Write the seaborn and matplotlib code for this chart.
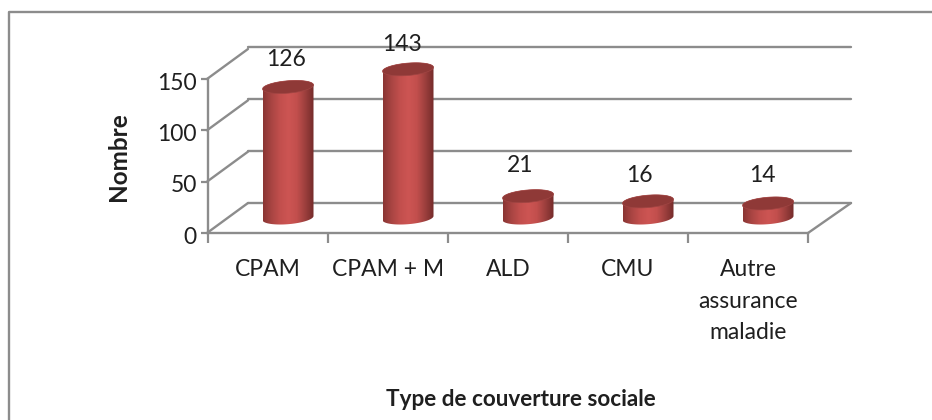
# Bar chart of social coverage types, drawn with a fake 3D cylinder look
import numpy as np
import pandas as pd
import matplotlib
matplotlib.use("Agg")
import matplotlib.pyplot as plt
from matplotlib.colors import LinearSegmentedColormap
from matplotlib.lines import Line2D
from matplotlib.patches import Polygon
from matplotlib.transforms import ScaledTranslation
import seaborn as sns

categories = ["CPAM", "CPAM + M", "ALD", "CMU", "Autre\nassurance\nmaladie"]
values = [126, 143, 21, 16, 14]
y_ticks = [0, 50, 100, 150]
x_title = "Type de couverture sociale"
y_title = "Nombre"

W, H = 932, 420
GRID = "#8c8c8c"
TEXT = "#1f1f1f"

sns.set_theme(style="white")
plt.rcParams["font.family"] = ["Lato", "DejaVu Sans"]


def axes_px(fig, left, right, bottom, top):
    # axes placed from pixel positions, y counted from the top of the image
    return fig.add_axes([left / W, 1 - bottom / H, (right - left) / W, (bottom - top) / H])


def line_px(fig, xs, ys, lw=1.7):
    fig.add_artist(Line2D([x / W for x in xs], [1 - y / H for y in ys], color=GRID, lw=lw))


fig = plt.figure(figsize=(W / 100, H / 100), dpi=100, facecolor="white")

# outer frame, only top and left are inside the crop
line_px(fig, [9, 9, W], [H, 12, 12], lw=1.7)

# back wall with the gridlines
ax_back = axes_px(fig, 248, 851, 203, 47)
ax_back.set_xlim(0, 1)
ax_back.set_ylim(0, 150)
ax_back.set_yticks(y_ticks)
ax_back.set_xticks([])
ax_back.tick_params(left=False, labelleft=False)
ax_back.grid(axis="y", color=GRID, lw=1.7)
for gridline in ax_back.get_ygridlines():
    gridline.set_clip_on(False)
sns.despine(ax=ax_back, left=True, bottom=True)

# side wall and floor edges
for tick in y_ticks:
    y = 233 - tick * 154 / 150
    line_px(fig, [207, 248], [y, y - 30])
line_px(fig, [808, 851], [233, 203])

# front axis: ticks and labels
ax = axes_px(fig, 208, 808, 233, 79)
ax.patch.set_alpha(0)
ax.set_xlim(-0.5, 4.5)
ax.set_ylim(0, 150)
ax.set_yticks(y_ticks)
ax.set_xticks(np.arange(-0.5, 5))
ax.set_xticklabels([])
ax.set_xticks(range(5), categories, minor=True)
ax.tick_params(axis="x", which="major", bottom=True, length=7, width=1.6, color=GRID)
ax.tick_params(axis="x", which="minor", bottom=False, labelsize=16.5, labelcolor=TEXT, pad=15)
ax.tick_params(axis="y", left=True, length=5, width=1.6, color=GRID, labelsize=16.5,
               labelcolor=TEXT, pad=3)
for label in ax.get_xticklabels(minor=True):
    label.set_linespacing(1.62)
# y labels sit slightly under their ticks in the original
for label in ax.get_yticklabels():
    label.set_transform(label.get_transform() + ScaledTranslation(0, -2 / 100, fig.dpi_scale_trans))
ax.spines["top"].set_visible(False)
ax.spines["right"].set_visible(False)
ax.spines["left"].set_color(GRID)
ax.spines["bottom"].set_color(GRID)
ax.spines["left"].set_linewidth(1.7)
ax.spines["bottom"].set_linewidth(1.7)
ax.set_xlabel("")
ax.set_ylabel("")
fig.text(119 / W, 1 - 157 / H, y_title, rotation=90, ha="center", va="center",
         fontsize=17.5, fontweight="bold", color=TEXT)
fig.text(521 / W, 1 - 399 / H, x_title, ha="center", va="center",
         fontsize=16.2, fontweight="bold", color=TEXT)

# bars sit in a plane halfway between front and back
df = pd.DataFrame({"type": categories, "nombre": values})
ax_bars = axes_px(fig, 228, 828, 218, 62)
ax_bars.patch.set_alpha(0)
sns.barplot(data=df, x="type", y="nombre", ax=ax_bars, width=0.425, color="#c0504d",
            saturation=1, legend=False)
ax_bars.set_xlim(-0.5, 4.5)
ax_bars.set_ylim(0, 150)
ax_bars.axis("off")

body_cmap = LinearSegmentedColormap.from_list(
    "cyl", ["#8a3533", "#a94543", "#c24f4d", "#cd5553", "#c24f4d", "#9c3f3d", "#742b2a"])
shade = np.linspace(0, 1, 128).reshape(1, -1)

# cylinder shading and caps, built on top of the seaborn bars
for bar, value in zip(ax_bars.patches, values):
    x0 = bar.get_x()
    w = bar.get_width()
    cx = x0 + w / 2
    a = w / 2
    b = 6.2 / 1.04
    tilt = 2.0 / 1.04 / a
    t = np.linspace(0, np.pi, 60)
    xs = cx + a * np.cos(t)
    # outline: far half of top ellipse, near half of bottom ellipse
    top_y = value + b * np.sin(t) + tilt * (xs - cx)
    low_y = -b * np.sin(t) + tilt * (xs - cx)
    outline = np.r_[np.c_[xs, top_y], np.c_[xs[::-1], low_y[::-1]]]
    body = Polygon(outline, closed=True, transform=ax_bars.transData, fc="none", ec="none")
    body.set_clip_on(False)
    ax_bars.add_patch(body)
    bar.set_visible(False)
    im = ax_bars.imshow(shade, cmap=body_cmap, aspect="auto", zorder=3,
                        extent=[x0, x0 + w, -b - 5, value + b + 5])
    im.set_clip_box(fig.bbox)
    im.set_clip_path(body)
    cap_y = value - b * np.sin(t) + tilt * (xs - cx)
    cap = np.r_[np.c_[xs, top_y], np.c_[xs[::-1], cap_y[::-1]]]
    ax_bars.add_patch(Polygon(cap, closed=True, fc="#8f3937", ec="#a04543", lw=0.5, zorder=4,
                              clip_on=False))
ax_bars.set_xlim(-0.5, 4.5)
ax_bars.set_ylim(0, 150)

# value labels, nudged per bar like the hand-moved labels of the original
nudges = [(-2, 27), (-6, 25), (-8, 31), (-9, 26), (-6, 28)]
for i, (value, (dx, dy)) in enumerate(zip(values, nudges)):
    ax_bars.annotate(str(value), (i, value), xytext=(dx * 0.72, dy * 0.72),
                     textcoords="offset points", ha="center", va="center", fontsize=16.5,
                     color=TEXT, annotation_clip=False, zorder=6)

fig.savefig("out.png", dpi=100)
